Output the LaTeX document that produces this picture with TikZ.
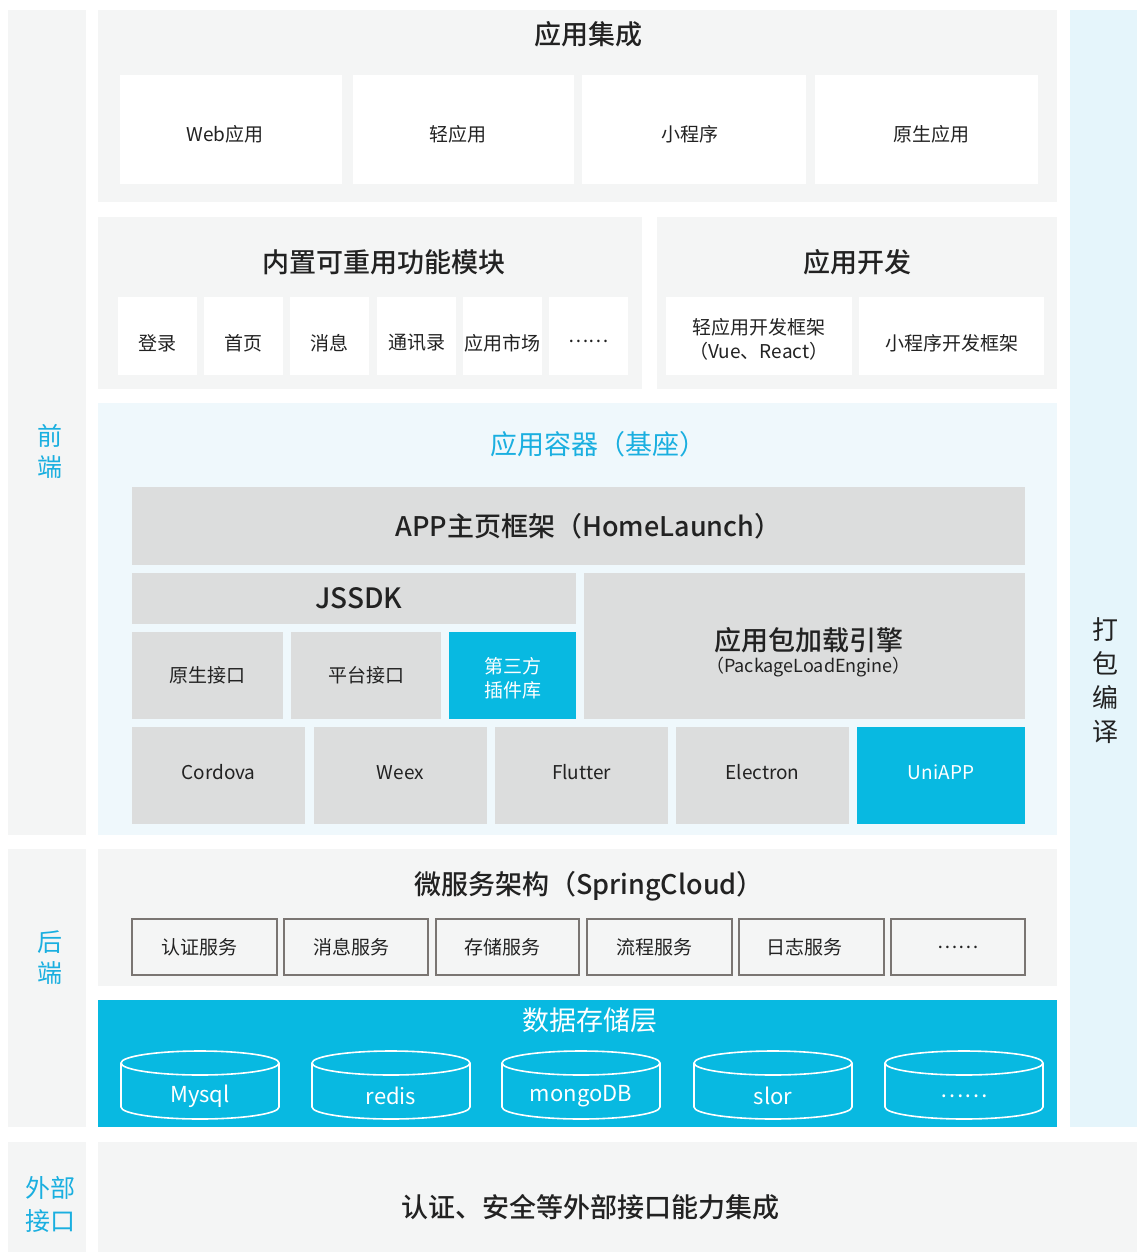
\documentclass[tikz,border=0pt]{standalone}
\usepackage{fontspec}
\setmainfont{Noto Sans CJK SC}[BoldFont={Noto Sans CJK SC Medium}]
\usetikzlibrary{positioning}
\definecolor{panelgrey}{HTML}{F4F5F5}
\definecolor{lightblue}{HTML}{EFF8FC}
\definecolor{sideblue}{HTML}{E5F5FB}
\definecolor{boxgrey}{HTML}{DCDDDD}
\definecolor{brandcyan}{HTML}{08B9E1}
\definecolor{labelcyan}{HTML}{1AAFE0}
\definecolor{svcborder}{HTML}{7A7572}
\definecolor{textdark}{HTML}{222222}
% \mkbox[text shift keys]{name}{x1}{y1}{x2}{y2}{style}{text}
\newcommand\mkbox[8][]{%
  \node[#7, minimum width={(#5-#3)*1pt}, minimum height={(#6-#4)*1pt}]
    (#2) at ({(#3+#5)/2},{(#4+#6)/2}) {};%
  \node[#7, fill=none, draw=none, minimum width=0pt, minimum height=0pt, #1]
    (#2t) at (#2.center) {#8};}
\newcommand\mkcyl[3]{% name, center x, label
  \fill[brandcyan] ({#2-79},1063) -- ({#2-79},1107) arc[start angle=180,end angle=0,x radius=79,y radius=12] -- ({#2+79},1063) arc[start angle=0,end angle=-180,x radius=79,y radius=12] -- cycle;
  \draw[white,line width=1.6pt] ({#2},1063) ellipse[x radius=79,y radius=12];
  \draw[white,line width=1.6pt] ({#2-79},1063) -- ({#2-79},1107) arc[start angle=180,end angle=0,x radius=79,y radius=12] -- ({#2+79},1063);
  \node[cyltext] (#1) at (#2,1096) {#3};}
\begin{document}
\begin{tikzpicture}[x=1pt,y=-1pt,
  every node/.style={inner sep=0pt, outer sep=0pt, text=textdark},
  panel/.style={fill=panelgrey, draw=none, rectangle},
  bluepanel/.style={fill=lightblue, draw=none, rectangle},
  sidecol/.style={fill=sideblue, draw=none, rectangle},
  whitebox/.style={fill=white, draw=none, rectangle, font=\fontsize{19}{24}\selectfont, align=center},
  greybox/.style={fill=boxgrey, draw=none, rectangle, font=\fontsize{19}{24}\selectfont, align=center},
  cyanbox/.style={fill=brandcyan, draw=none, rectangle, text=white, font=\fontsize{19}{24}\selectfont, align=center},
  svcbox/.style={fill=panelgrey, draw=svcborder, line width=1.2pt, rectangle, font=\fontsize{19}{24}\selectfont},
  title/.style={font=\fontsize{27}{30}\selectfont\bfseries},
  sidelabel/.style={text=labelcyan, align=center, font=\fontsize{25}{31}\selectfont},
  cyltext/.style={text=white, font=\fontsize{22}{26}\selectfont}
]
\useasboundingbox (0,0) rectangle (1137,1252);
\fill[white] (0,0) rectangle (1137,1252);

% side columns
\mkbox{colfront}{8}{10}{86}{835}{panel}{}
\mkbox{colback}{8}{849}{86}{1127}{panel}{}
\mkbox{colext}{8}{1142}{86}{1252}{panel}{}
\mkbox{colpack}{1070}{10}{1137}{1127}{sidecol}{}
\node[sidelabel] (lblfront) at (50,451) {前\\端};
\node[sidelabel] (lblback) at (50,958) {后\\端};
\node[sidelabel, font=\fontsize{25}{33}\selectfont] (lblext) at (50,1204) {外部\\接口};
\node[align=center, font=\fontsize{26}{34}\selectfont] (lblpack) at (1105,681) {打\\包\\编\\译};

% 应用集成
\mkbox{pint}{98}{10}{1057}{202}{panel}{}
\node[title] (tint) at (588,34) {应用集成};
\mkbox[yshift=-5pt, xshift=-6pt]{bweb}{120}{75}{342}{184}{whitebox}{Web应用}
\mkbox[yshift=-5pt, xshift=-6pt]{blight}{353}{75}{574}{184}{whitebox}{轻应用}
\mkbox[yshift=-5pt, xshift=-4pt]{bmini}{582}{75}{806}{184}{whitebox}{小程序}
\mkbox[yshift=-5pt, xshift=5pt]{bnative}{815}{75}{1038}{184}{whitebox}{原生应用}

% 内置可重用功能模块
\mkbox{pmod}{98}{217}{642}{389}{panel}{}
\node[title] (tmod) at (384,262) {内置可重用功能模块};
\mkbox[yshift=-7pt]{mlogin}{118}{297}{197}{375}{whitebox}{登录}
\mkbox[yshift=-7pt]{mhome}{204}{297}{283}{375}{whitebox}{首页}
\mkbox[yshift=-7pt]{mmsg}{290}{297}{369}{375}{whitebox}{消息}
\mkbox[yshift=-7pt]{mcontact}{377}{297}{456}{375}{whitebox}{通讯录}
\mkbox[yshift=-7pt]{mmarket}{463}{297}{542}{375}{whitebox}{应用市场}
\mkbox[yshift=-5pt]{mmore}{549}{297}{628}{375}{whitebox}{……}

% 应用开发
\mkbox{pdev}{657}{217}{1057}{389}{panel}{}
\node[title] (tdev) at (857,262) {应用开发};
\mkbox[yshift=-3pt]{dlight}{666}{297}{852}{375}{whitebox}{轻应用开发框架\\（Vue、React）}
\mkbox[yshift=-7pt]{dmini}{859}{297}{1044}{375}{whitebox}{小程序开发框架}

% 应用容器
\mkbox{pcont}{98}{403}{1057}{835}{bluepanel}{}
\node[text=labelcyan, font=\fontsize{27}{30}\selectfont] (tcont) at (598,444) {应用容器（基座）};
\mkbox[xshift=10pt]{chome}{132}{487}{1025}{565}{greybox}{\fontsize{27}{30}\selectfont\bfseries APP主页框架（HomeLaunch）}
\mkbox[xshift=5pt]{cjssdk}{132}{573}{576}{624}{greybox}{\fontsize{28}{30}\selectfont\bfseries JSSDK}
\mkbox{cnative}{132}{632}{283}{719}{greybox}{原生接口}
\mkbox{cplat}{291}{632}{441}{719}{greybox}{平台接口}
\mkbox[yshift=-3pt]{cthird}{449}{632}{576}{719}{cyanbox}{第三方\\插件库}
\mkbox[yshift=-6pt, xshift=4pt]{cengine}{584}{573}{1025}{719}{greybox}{{\fontsize{27}{30}\selectfont\bfseries 应用包加载引擎}\\[-2pt]{\fontsize{18}{22}\selectfont （PackageLoadEngine）}}
\mkbox[yshift=3pt]{ccordova}{132}{727}{305}{824}{greybox}{Cordova}
\mkbox[yshift=3pt]{cweex}{314}{727}{487}{824}{greybox}{Weex}
\mkbox[yshift=3pt]{cflutter}{495}{727}{668}{824}{greybox}{Flutter}
\mkbox[yshift=3pt]{celectron}{676}{727}{849}{824}{greybox}{Electron}
\mkbox[yshift=3pt]{cuni}{857}{727}{1025}{824}{cyanbox}{UniAPP}

% 微服务架构
\mkbox{psvc}{98}{849}{1057}{986}{panel}{}
\node[title] (tsvc) at (589,886) {微服务架构（SpringCloud）};
\mkbox[xshift=-5pt]{sauth}{132}{919}{277}{975}{svcbox}{认证服务}
\mkbox[xshift=-5pt]{smsg}{284}{919}{428}{975}{svcbox}{消息服务}
\mkbox[xshift=-5pt]{sstore}{436}{919}{579}{975}{svcbox}{存储服务}
\mkbox[xshift=-5pt]{sflow}{587}{919}{732}{975}{svcbox}{流程服务}
\mkbox[xshift=-7pt]{slog}{739}{919}{884}{975}{svcbox}{日志服务}
\mkbox{smore}{891}{919}{1025}{975}{svcbox}{……}

% 数据存储层
\mkbox{pdata}{98}{1000}{1057}{1127}{cyanbox}{}
\node[text=white, font=\fontsize{27}{30}\selectfont] (tdata) at (590,1020) {数据存储层};
\mkcyl{dbmysql}{200}{Mysql}
\mkcyl{dbredis}{391}{redis}
\mkcyl{dbmongo}{581}{mongoDB}
\mkcyl{dbslor}{773}{slor}
\mkcyl{dbmore}{964}{……}

% 外部接口
\mkbox{pext}{98}{1142}{1137}{1252}{panel}{}
\node[title] (text) at (590,1207) {认证、安全等外部接口能力集成};
\end{tikzpicture}
\end{document}
